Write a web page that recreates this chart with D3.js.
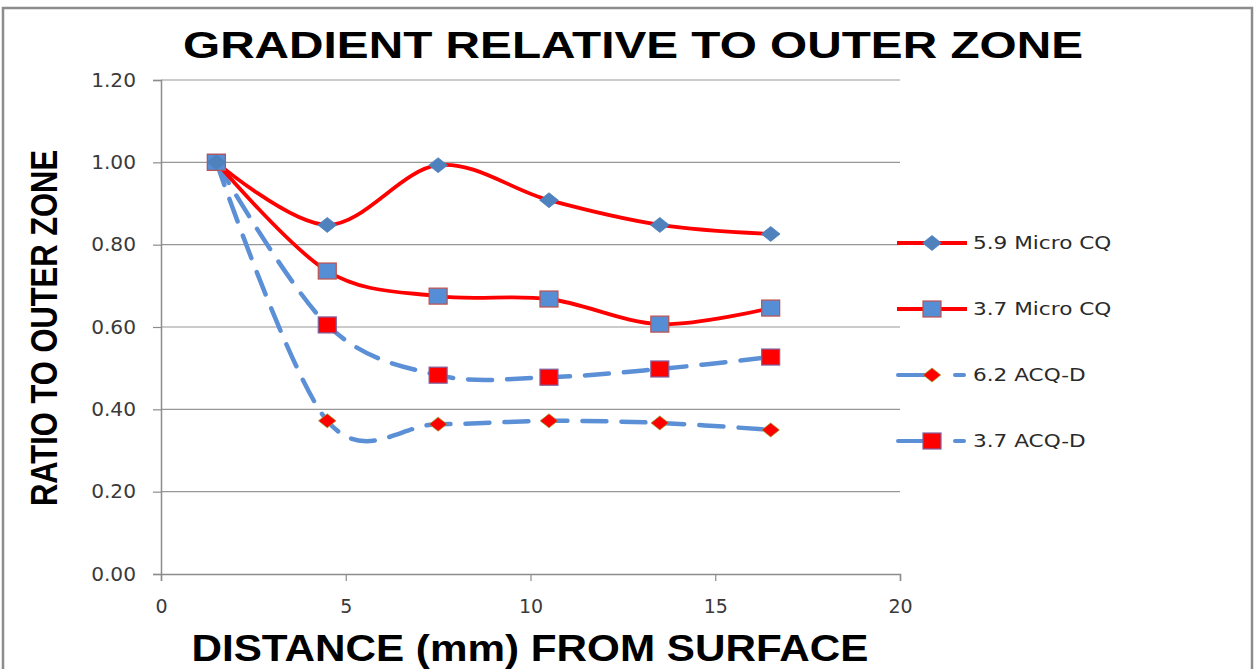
<!DOCTYPE html>
<html>
<head>
<meta charset="utf-8">
<script src="https://cdn.jsdelivr.net/npm/d3@7"></script>
<style>
  html, body { margin: 0; padding: 0; background: #fff; }
  svg { display: block; }
</style>
</head>
<body>
<svg id="chart" width="1258" height="669"></svg>
<script>
// Distance from surface (mm)
const distances = [1.5, 4.5, 7.5, 10.5, 13.5, 16.5];
// Ratio to outer zone for each sample
const micro59 = [1.00, 0.848, 0.993, 0.908, 0.848, 0.826];
const micro37 = [1.00, 0.736, 0.675, 0.668, 0.607, 0.646];
const acq62   = [1.00, 0.372, 0.364, 0.372, 0.367, 0.350];
const acq37   = [1.00, 0.605, 0.483, 0.478, 0.498, 0.527];
const seriesNames = ["5.9 Micro CQ", "3.7 Micro CQ", "6.2 ACQ-D", "3.7 ACQ-D"];
const xTicks = [0, 5, 10, 15, 20];
const yTicks = [0, 0.2, 0.4, 0.6, 0.8, 1.0, 1.2];

const RED = "#ff0000", BLUE = "#5b8fd6", DBLUE = "#4f81bd";
const styles = [
  { line: RED,  dash: null,    marker: "diamond", fill: DBLUE,  stroke: DBLUE,    size: 13 },
  { line: RED,  dash: null,    marker: "square",  fill: "#558ed5", stroke: "#c0504d", size: 16 },
  { line: BLUE, dash: "24,15", marker: "diamond", fill: RED,    stroke: "#9b9b30", size: 12 },
  { line: BLUE, dash: "24,15", marker: "square",  fill: RED,    stroke: "#7f60a0", size: 16 }
];
const values = [micro59, micro37, acq62, acq37];

const svg = d3.select("#chart");
const LABEL_FONT = "'DejaVu Sans', Verdana, sans-serif";

// widen small labels horizontally by a fixed factor
function stretch(sel, factor) {
  sel.each(function () {
    const w = this.getComputedTextLength();
    d3.select(this).attr("textLength", w * factor).attr("lengthAdjust", "spacingAndGlyphs");
  });
}

// outer frame
svg.append("rect").attr("x", 3).attr("y", 8).attr("width", 1249).attr("height", 680)
  .attr("fill", "none").attr("stroke", "#8c8c8c").attr("stroke-width", 2.5);

const x = d3.scaleLinear().domain([0, 20]).range([161, 900]);
const y = d3.scaleLinear().domain([0, 1.2]).range([574, 80]);

// horizontal gridlines
svg.append("g").selectAll("line").data(yTicks.filter(d => d > 0)).join("line")
  .attr("x1", x(0)).attr("x2", x(20))
  .attr("y1", d => y(d)).attr("y2", d => y(d))
  .attr("stroke", "#979797").attr("stroke-width", 1.2);

// y axis
const yAxis = svg.append("g").attr("transform", `translate(${x(0)},0)`)
  .call(d3.axisLeft(y).tickValues(yTicks).tickFormat(d3.format(".2f")).tickSize(8).tickPadding(17));
// x axis
const xAxis = svg.append("g").attr("transform", `translate(0,${y(0)})`)
  .call(d3.axisBottom(x).tickValues(xTicks).tickFormat(d3.format("d")).tickSize(7).tickPadding(19));
[yAxis, xAxis].forEach(a => {
  a.attr("font-size", null);
  a.select(".domain").attr("stroke", "#8c8c8c").attr("stroke-width", 1.5);
  a.selectAll(".tick line").attr("stroke", "#8c8c8c").attr("stroke-width", 1.2);
  a.selectAll(".tick text").attr("fill", "#3a3a3a").attr("font-family", LABEL_FONT)
    .attr("font-size", 19);
});
stretch(yAxis.selectAll(".tick text"), 1.06);

// smoothed series lines
const line = d3.line().x((d, i) => x(distances[i])).y(d => y(d)).curve(d3.curveCatmullRom.alpha(0));
const drawOrder = [3, 2, 1, 0];
drawOrder.forEach(si => {
  const s = styles[si];
  svg.append("path").datum(values[si])
    .attr("d", line).attr("fill", "none")
    .attr("stroke", s.line).attr("stroke-width", s.dash ? 4.5 : 3.8)
    .attr("stroke-linecap", s.dash ? "round" : "butt")
    .attr("stroke-dasharray", s.dash);
});

function marker(g, s, cx, cy) {
  if (s.marker === "diamond") {
    const r = s.size / 2 + 1;
    g.append("path").attr("d", `M${cx},${cy - r}L${cx + r * 1.25},${cy}L${cx},${cy + r}L${cx - r * 1.25},${cy}Z`)
      .attr("fill", s.fill).attr("stroke", s.stroke).attr("stroke-width", 0.8);
  } else {
    const h = s.size / 2;
    g.append("rect").attr("x", cx - h - 1).attr("y", cy - h).attr("width", s.size + 2).attr("height", s.size)
      .attr("fill", s.fill).attr("stroke", s.stroke).attr("stroke-width", 1.2);
  }
}

drawOrder.forEach(si => {
  const g = svg.append("g");
  values[si].forEach((v, i) => marker(g, styles[si], x(distances[i]), y(v)));
});

// legend
const legendY = [243, 309, 375, 441];
seriesNames.forEach((name, i) => {
  const s = styles[i];
  const g = svg.append("g");
  const ly = legendY[i];
  if (s.dash) {
    g.append("line").attr("x1", 898).attr("x2", 930).attr("y1", ly).attr("y2", ly)
      .attr("stroke", s.line).attr("stroke-width", 4).attr("stroke-linecap", "round");
    g.append("line").attr("x1", 955).attr("x2", 964).attr("y1", ly).attr("y2", ly)
      .attr("stroke", s.line).attr("stroke-width", 4).attr("stroke-linecap", "round");
  } else {
    g.append("line").attr("x1", 897).attr("x2", 967).attr("y1", ly).attr("y2", ly)
      .attr("stroke", s.line).attr("stroke-width", 4);
  }
  marker(g, s, 932, ly);
  const t = g.append("text").attr("x", 973).attr("y", ly).attr("dy", "0.36em")
    .attr("fill", "#2a2a2a").attr("font-family", LABEL_FONT)
    .attr("font-size", 18).text(name);
  stretch(t, 1.2);
});

// titles
svg.append("text").attr("x", 633).attr("y", 58).attr("text-anchor", "middle")
  .attr("textLength", 900).attr("lengthAdjust", "spacingAndGlyphs")
  .style("font-family", "'Liberation Sans', Arial, sans-serif").style("font-weight", "bold")
  .style("font-size", "37px").text("GRADIENT RELATIVE TO OUTER ZONE");

svg.append("text").attr("transform", "translate(57,328) rotate(-90)").attr("text-anchor", "middle")
  .attr("textLength", 356).attr("lengthAdjust", "spacingAndGlyphs")
  .style("font-family", "'Liberation Sans Narrow', 'Liberation Sans', Arial, sans-serif").style("font-weight", "bold")
  .style("font-size", "37px").text("RATIO TO OUTER ZONE");

svg.append("text").attr("x", 530).attr("y", 661).attr("text-anchor", "middle")
  .attr("textLength", 677).attr("lengthAdjust", "spacingAndGlyphs")
  .style("font-family", "'Liberation Sans', Arial, sans-serif").style("font-weight", "bold")
  .style("font-size", "37px").text("DISTANCE (mm) FROM SURFACE");
</script>
</body>
</html>
